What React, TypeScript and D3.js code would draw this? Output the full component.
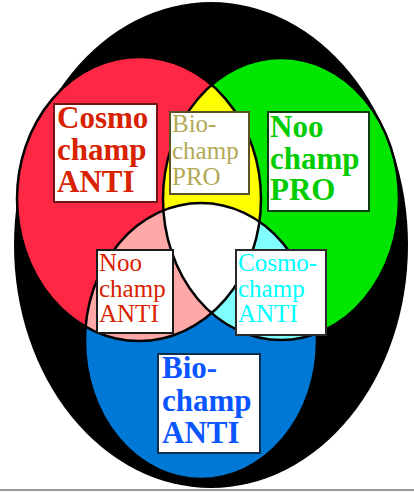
import React from "react";
import * as d3 from "d3";

// Venn sets (top-left, top-right, bottom)
const setNames = ["Cosmochamp", "Noochamp", "Biochamp"];
const setColors = ["#ff2844", "#00e600", "#0079d6"];
// Overlap colours
const overlapNames = ["Cosmo∩Noo", "Cosmo∩Bio", "Noo∩Bio", "All"];
const overlapColors = ["#ffff00", "#ffa8a8", "#80ffff", "#ffffff"];

// Region labels
const labelLines = [
  ["Cosmo", "champ", "ANTI"],
  ["Bio-", "champ", "PRO"],
  ["Noo", "champ", "PRO"],
  ["Noo", "champ", "ANTI"],
  ["Cosmo-", "champ", "ANTI"],
  ["Bio-", "champ", "ANTI"],
];
const labelBold = [true, false, true, false, false, true];
const labelColors = ["#d82200", "#b3a955", "#00cc00", "#d82200", "#00ffff", "#0a55ff"];
const labelBorders = ["#6e1414", "#5a5222", "#0e3e0e", "#1a1a1a", "#2a2a2a", "#0e2e4e"];

export default function App() {
  const W = 414;
  const H = 492;
  // layout (unit coordinates mapped through scales)
  const x = d3.scaleLinear().domain([0, 414]).range([0, W]);
  const y = d3.scaleLinear().domain([0, 492]).range([0, H]);

  const outer = { cx: 211, cy: 245, rx: 197, ry: 243 };
  const sets = [
    { cx: 139, cy: 199, rx: 122, ry: 142 },
    { cx: 281, cy: 199, rx: 118, ry: 141 },
    { cx: 201, cy: 341, rx: 116, ry: 138 },
  ];
  const boxes = [
    { x0: 54, y0: 104, x1: 157, y1: 202, tx: 57, ty: 128, lh: 32, fs: 31 },
    { x0: 170, y0: 112, x1: 249, y1: 194, tx: 172, ty: 132, lh: 26.5, fs: 25 },
    { x0: 268, y0: 112, x1: 369, y1: 211, tx: 270, ty: 137, lh: 31.5, fs: 31 },
    { x0: 97, y0: 250, x1: 173, y1: 333, tx: 99, ty: 271, lh: 25.5, fs: 25 },
    { x0: 236, y0: 250, x1: 326, y1: 335, tx: 238, ty: 271, lh: 25.5, fs: 25 },
    { x0: 158, y0: 354, x1: 260, y1: 453, tx: 162, ty: 378, lh: 32.5, fs: 31 },
  ];

  const ell = (s: any, props: any = {}) => (
    <ellipse cx={x(s.cx)} cy={y(s.cy)} rx={x(s.rx) - x(0)} ry={y(s.ry) - y(0)} {...props} />
  );

  return (
    <svg
      width={W}
      height={H}
      style={{ position: "absolute", left: 0, top: 0, background: "#fff" }}
      fontFamily="'Liberation Serif', 'Times New Roman', serif"
    >
      <defs>
        {sets.map((s, i) => (
          <clipPath id={`clip-${i}`} key={i}>
            {ell(s)}
          </clipPath>
        ))}
      </defs>
      {ell(outer, { fill: "#000" })}
      {sets.map((s, i) => (
        <g key={setNames[i]}>{ell(s, { fill: setColors[i] })}</g>
      ))}
      {/* pairwise overlaps */}
      <g clipPath="url(#clip-0)">{ell(sets[1], { fill: overlapColors[0] })}</g>
      <g clipPath="url(#clip-0)">{ell(sets[2], { fill: overlapColors[1] })}</g>
      <g clipPath="url(#clip-1)">{ell(sets[2], { fill: overlapColors[2] })}</g>
      <g clipPath="url(#clip-0)">
        <g clipPath="url(#clip-1)">{ell(sets[2], { fill: overlapColors[3] })}</g>
      </g>
      {sets.map((s, i) => (
        <g key={"st" + i}>{ell(s, { fill: "none", stroke: "#000", strokeWidth: 2.5 })}</g>
      ))}
      {/* labels */}
      {labelLines.map((lines, i) => {
        const b = boxes[i];
        return (
          <g key={"lab" + i}>
            <rect
              x={x(b.x0)}
              y={y(b.y0)}
              width={x(b.x1) - x(b.x0)}
              height={y(b.y1) - y(b.y0)}
              fill="#fff"
              stroke={labelBorders[i]}
              strokeWidth={2}
            />
            {lines.map((t, j) => (
              <text
                key={j}
                x={x(b.tx)}
                y={y(b.ty + j * b.lh)}
                fontSize={b.fs}
                fontWeight={labelBold[i] ? "bold" : "normal"}
                fill={labelColors[i]}
              >
                {t}
              </text>
            ))}
          </g>
        );
      })}
      <rect x={0} y={489} width={W} height={2} fill="#999" />
    </svg>
  );
}
